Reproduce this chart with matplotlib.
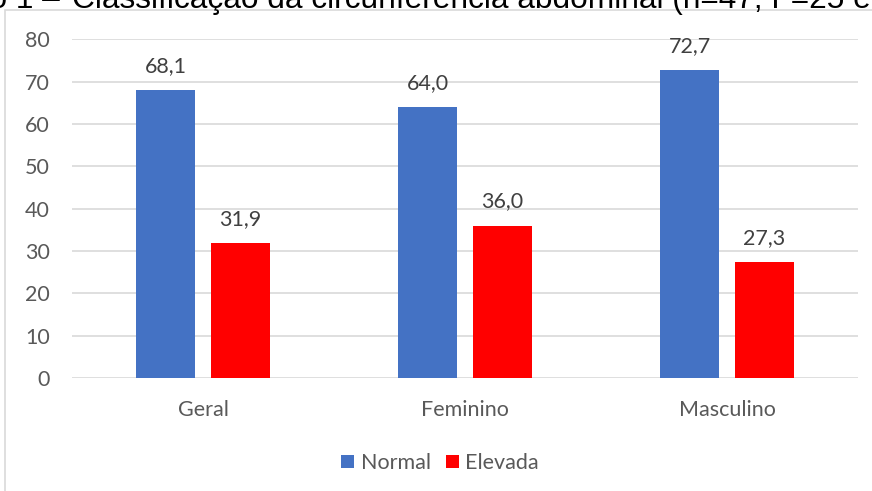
import numpy as np
import matplotlib.pyplot as plt
from matplotlib.patches import Rectangle

# data
categorias = ['Geral', 'Feminino', 'Masculino']
normal = [68.1, 64.0, 72.7]
elevada = [31.9, 36.0, 27.3]
series_nomes = ['Normal', 'Elevada']
yticks = [0, 10, 20, 30, 40, 50, 60, 70, 80]

azul = '#4472C4'
vermelho = '#FF0000'
cinza_txt = '#595959'

plt.rcParams['font.family'] = ['Lato', 'DejaVu Sans']

W, H = 872, 491
fig = plt.figure(figsize=(W / 100, H / 100), dpi=100)

# chart border (cut by the screenshot on the right and bottom)
fig.patches.append(Rectangle((5 / W, -0.1), 1.2, (H - 10) / H + 0.1,
                             transform=fig.transFigure, fill=False,
                             edgecolor='#D9D9D9', linewidth=1.2))

# cut title on top
fig.text(72 / W, 1 - 8 / H, 'Classificação da circunferência abdominal (n=47; F=25 e M=22)',
         ha='left', va='baseline', fontsize=22.8, family='Liberation Sans', color='black')
fig.text(60 / W, 1 - 8 / H, 'Gráfico 1 –', ha='right', va='baseline', fontsize=22.8,
         family='Liberation Sans', color='black')

ax = fig.add_axes([72 / W, 1 - 378 / H, (858 - 72) / W, (378 - 39.3) / H])

x = np.arange(len(categorias))
largura = 0.225
desl = 0.143
b1 = ax.bar(x - desl, normal, largura, color=azul, label=series_nomes[0], zorder=3)
b2 = ax.bar(x + desl, elevada, largura, color=vermelho, label=series_nomes[1], zorder=3)

for barras in (b1, b2):
    for b in barras:
        v = b.get_height()
        ax.annotate(('%.1f' % v).replace('.', ','), (b.get_x() + b.get_width() / 2, v),
                    xytext=(0, 13), textcoords='offset points', ha='center', va='baseline',
                    fontsize=15.5, color='#404040')

ax.set_xlim(-0.5, 2.5)
ax.set_ylim(0, 80)
ax.set_yticks(yticks)
ax.set_xticks(x)
ax.set_xticklabels(categorias)
ax.grid(axis='y', color='#D9D9D9', linewidth=1.2, zorder=0)
for s in ax.spines.values():
    s.set_visible(False)
ax.tick_params(axis='both', length=0, labelsize=15.5, labelcolor=cinza_txt)
ax.tick_params(axis='y', pad=16)
ax.tick_params(axis='x', pad=16)

fig.legend(loc='center', bbox_to_anchor=(440 / W, 1 - 463 / H), ncol=2, frameon=False,
           fontsize=15.5, labelcolor=cinza_txt, handlelength=0.6, handleheight=0.6,
           handletextpad=0.3, columnspacing=0.7)

fig.savefig('out.png', dpi=100)
